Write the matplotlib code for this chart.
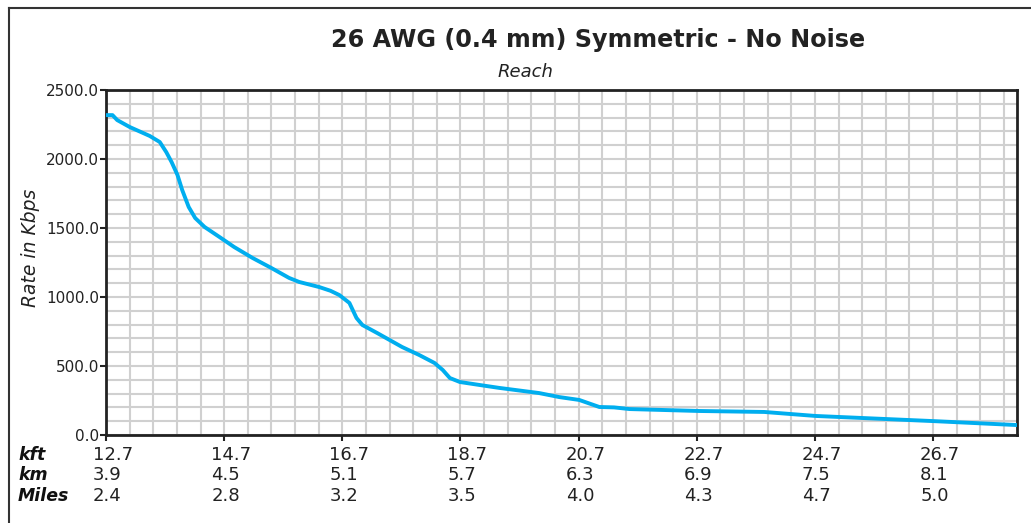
import numpy as np
import matplotlib
matplotlib.use("Agg")
import matplotlib.pyplot as plt
from matplotlib.lines import Line2D
from matplotlib.transforms import offset_copy

# reach in kft vs. rate in Kbps
kft = [12.70, 12.81, 12.89, 13.10, 13.44, 13.61, 13.72, 13.81, 13.91, 13.99,
       14.10, 14.21, 14.37, 14.62, 14.87, 15.18, 15.50, 15.80, 15.97, 16.31,
       16.50, 16.65, 16.82, 16.94, 17.04, 17.29, 17.71, 18.00, 18.26, 18.40,
       18.52, 18.69, 19.03, 19.36, 20.03, 20.37, 20.71, 21.05, 21.30, 21.56,
       22.74, 23.84, 24.71, 26.69, 28.12]
rate = [2318, 2318, 2282, 2232, 2167, 2123, 2050, 1978, 1884, 1775,
        1652, 1572, 1507, 1435, 1362, 1283, 1210, 1138, 1109, 1072,
        1045, 1014, 957, 848, 797, 739, 638, 580, 522, 471,
        413, 384, 362, 341, 304, 275, 254, 203, 200, 188,
        174, 167, 138, 101, 72]

tick_kft = [12.7, 14.7, 16.7, 18.7, 20.7, 22.7, 24.7, 26.7]
tick_km = ["3.9", "4.5", "5.1", "5.7", "6.3", "6.9", "7.5", "8.1"]
tick_miles = ["2.4", "2.8", "3.2", "3.5", "4.0", "4.3", "4.7", "5.0"]
row_names = ["kft", "km", "Miles"]

W, H = 1031, 523
fig = plt.figure(figsize=(W / 100, H / 100), dpi=100)
ax = fig.add_axes([106 / W, 1 - 435 / H, (1017 - 106) / W, (435 - 90) / H])

ax.plot(kft, rate, color="#00aeef", lw=2.8, solid_capstyle="round",
        solid_joinstyle="round", zorder=3)

ax.set_xlim(12.7, 28.12)
ax.set_ylim(0, 2500)
ax.xaxis.remove_overlapping_locs = False
ax.yaxis.remove_overlapping_locs = False
ax.set_xticks(12.7 + 0.4 * np.arange(39), minor=True)
ax.set_yticks(np.arange(0, 2501, 100), minor=True)
ax.grid(which="minor", color="#d0d0d0", lw=1.5, zorder=0)
ax.set_axisbelow(True)
ax.tick_params(which="minor", length=0)

ax.set_yticks(np.arange(0, 2501, 500))
ax.set_yticklabels(["%.1f" % v for v in np.arange(0, 2501, 500)])
ax.set_xticks(tick_kft)
ax.set_xticklabels([])
ax.tick_params(which="major", length=4, width=1.5, color="#222222",
               labelsize=11, labelcolor="#222222", pad=1)
for s in ax.spines.values():
    s.set_linewidth(2)
    s.set_color("#222222")

# three rows of x labels
trans = offset_copy(ax.get_xaxis_transform(), fig=fig, x=-13, y=0, units="dots")
rows = [["%.1f" % v for v in tick_kft], tick_km, tick_miles]
row_y = [-0.058, -0.116, -0.177]
for labels, yy, name in zip(rows, row_y, row_names):
    for xv, lab in zip(tick_kft, labels):
        ax.text(xv, yy, lab, transform=trans, ha="left", va="center",
                fontsize=13, color="#222222")
    fig.text(18 / W, 1 - (435 - yy * 345) / H, name, ha="left", va="center",
             fontsize=12.5, fontweight="bold", fontstyle="italic", color="#111111")

fig.text(598 / W, 1 - 40 / H, "26 AWG (0.4 mm) Symmetric - No Noise",
         ha="center", va="center", fontsize=17.2, fontweight="bold", color="#222222")
fig.text(525 / W, 1 - 72 / H, "Reach", ha="center", va="center",
         fontsize=13, fontstyle="italic", color="#222222")
fig.text(30 / W, 1 - 248 / H, "Rate in Kbps", ha="center", va="center",
         rotation=90, fontsize=13.5, fontstyle="italic", color="#222222")

# outer frame (left and top edges only)
fig.add_artist(Line2D([9 / W, 9 / W], [0, 1 - 8 / H], transform=fig.transFigure,
                      color="#333333", lw=1.5))
fig.add_artist(Line2D([9 / W, 1], [1 - 8 / H, 1 - 8 / H], transform=fig.transFigure,
                      color="#333333", lw=1.5))

fig.savefig("out.png", dpi=100)
